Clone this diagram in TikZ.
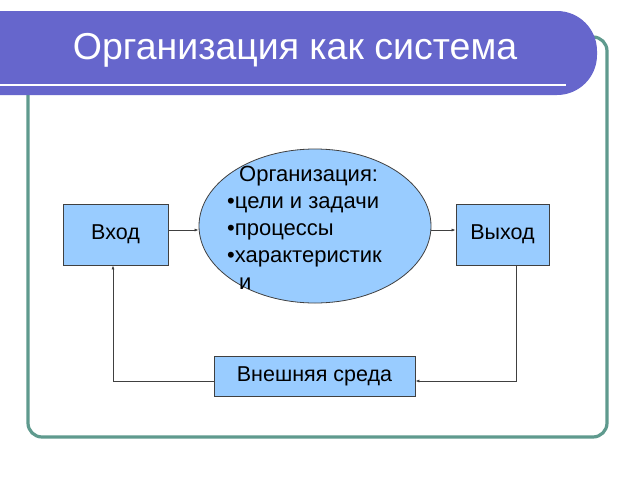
\documentclass[tikz,border=0pt]{standalone}
\usepackage{fontspec}
\setmainfont{Liberation Sans}
\usetikzlibrary{shapes.geometric,arrows.meta}
\definecolor{banner}{HTML}{6666CC}
\definecolor{frame}{HTML}{5F9A8E}
\definecolor{boxfill}{HTML}{99CCFF}
\definecolor{edge}{HTML}{404040}
\tikzset{
  blockbox/.style={draw=edge, line width=0.8pt, fill=boxfill, font=\fontsize{21.5}{26}\selectfont, inner sep=0pt},
  link/.style={draw=edge, line width=0.7pt, -{Latex[length=4pt,width=3pt]}},
}
\begin{document}
\begin{tikzpicture}[x=1pt,y=-1pt]
\useasboundingbox (0,0) rectangle (640,480);
\fill[white] (0,0) rectangle (640,480);
% frame
\draw[frame, line width=3.2pt, rounded corners=14pt] (28,60) -- (28,437) -- (607,437) -- (607,37) -- (585,37);
% banner
\fill[banner, rounded corners=40pt] (-50,11) -- (597,11) -- (597,95) -- (-50,95);
\fill[banner] (-5,11) rectangle (40,95);
\draw[white, line width=2.5pt] (0,85) -- (566,85);
\node[text=white, font=\fontsize{37.5}{44}\selectfont] (title) at (295,50) {Организация как система};
% nodes
\node[blockbox, minimum width=105pt, minimum height=61pt] (in) at (115.5,234.5) {Вход};
\node[blockbox, minimum width=93pt, minimum height=61pt] (out) at (502.5,234.5) {Выход};
\node[blockbox, minimum width=201pt, minimum height=40pt] (env) at (314.5,376) {Внешняя среда};
\node[draw=edge, line width=0.8pt, fill=boxfill, ellipse, minimum width=232pt, minimum height=154pt, inner sep=0pt] (org) at (315,226) {};
\node[anchor=north west, align=left, font=\fontsize{22}{27}\selectfont, inner sep=0pt] (orgtext) at (227,166) {\hspace*{12pt}Организация:\\•цели и задачи\\•процессы\\•характеристик\\\hspace*{12pt}и};
% connectors
\coordinate (a1) at (in.east |- 0,230);
\coordinate (a2) at (out.west |- 0,230);
\draw[link] (a1) -- (org.west |- a1);
\draw[link] (org.east |- a2) -- (a2);
\coordinate (d1) at (516,0 |- out.south);
\coordinate (c1) at (516,381);
\coordinate (e1) at (env.east |- c1);
\draw[link] (out.south -| d1) -- (c1) -- (e1);
\coordinate (c2) at (113,381);
\coordinate (e2) at (env.west |- c2);
\draw[link] (e2) -- (c2) -- (c2 |- in.south);
\end{tikzpicture}
\end{document}
